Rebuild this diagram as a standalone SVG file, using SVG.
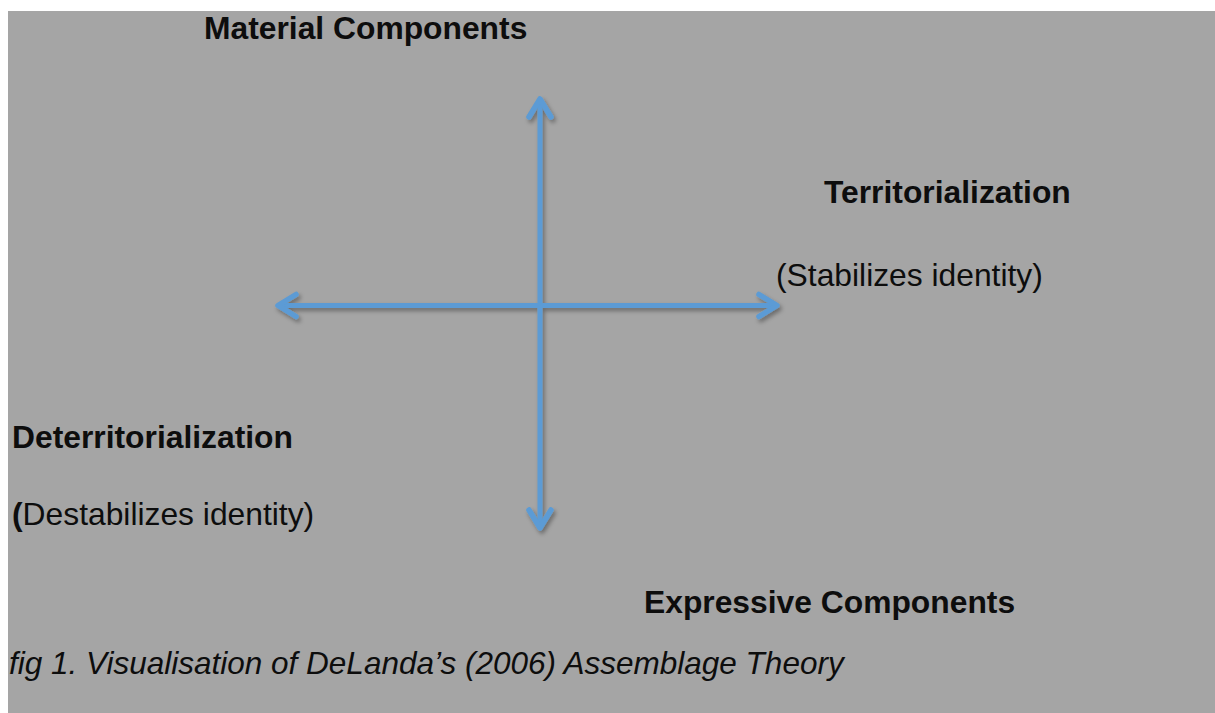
<svg xmlns="http://www.w3.org/2000/svg" width="1215" height="713" viewBox="0 0 1215 713">
  <defs>
    <style>
      .label { font-family: "Liberation Sans", Arial, sans-serif; font-size: 31.8px; fill: #0d0d0d; }
      .bold { font-weight: bold; }
      .caption { font-style: italic; font-size: 31.5px; }
      .axis { stroke: #5b9bd5; stroke-width: 5; fill: none; stroke-linecap: butt; }
      .head { stroke: #5b9bd5; stroke-width: 5.5; fill: none; stroke-linecap: round; stroke-linejoin: round; }
    </style>
    <!-- open chevron arrowhead -->
    <marker id="chevron" markerUnits="userSpaceOnUse" viewBox="-26 -16 32 32" refX="0" refY="0" markerWidth="32" markerHeight="32" orient="auto-start-reverse" overflow="visible">
      <path class="head" d="M -18 -11 L 0 0 L -18 11"/>
    </marker>
    <filter id="shadow" x="-10%" y="-10%" width="120%" height="120%">
      <feDropShadow dx="2" dy="3" stdDeviation="2" flood-color="#000" flood-opacity="0.35"/>
    </filter>
  </defs>

  <!-- page and grey panel -->
  <rect x="0" y="0" width="1215" height="713" fill="#ffffff"/>
  <rect x="8" y="11" width="1207" height="702" fill="#a5a5a5"/>

  <!-- two-way axes -->
  <g id="connectors" filter="url(#shadow)">
    <line class="axis" x1="540" y1="99" x2="540" y2="528" marker-start="url(#chevron)" marker-end="url(#chevron)"/>
    <line class="axis" x1="278" y1="305.5" x2="777" y2="305.5" marker-start="url(#chevron)" marker-end="url(#chevron)"/>
  </g>

  <g id="material-components">
    <text class="label bold" x="204" y="39">Material Components</text>
  </g>

  <g id="territorialization">
    <text class="label bold" x="824" y="203">Territorialization</text>
    <text class="label" x="776" y="286">(Stabilizes identity)</text>
  </g>

  <g id="deterritorialization">
    <text class="label bold" x="12" y="448">Deterritorialization</text>
    <text class="label" x="12" y="525"><tspan class="bold">(</tspan>Destabilizes identity)</text>
  </g>

  <g id="expressive-components">
    <text class="label bold" x="644" y="613">Expressive Components</text>
  </g>

  <g id="caption">
    <text class="label caption" x="9" y="674">fig 1. Visualisation of DeLanda’s (2006) Assemblage Theory</text>
  </g>
</svg>
